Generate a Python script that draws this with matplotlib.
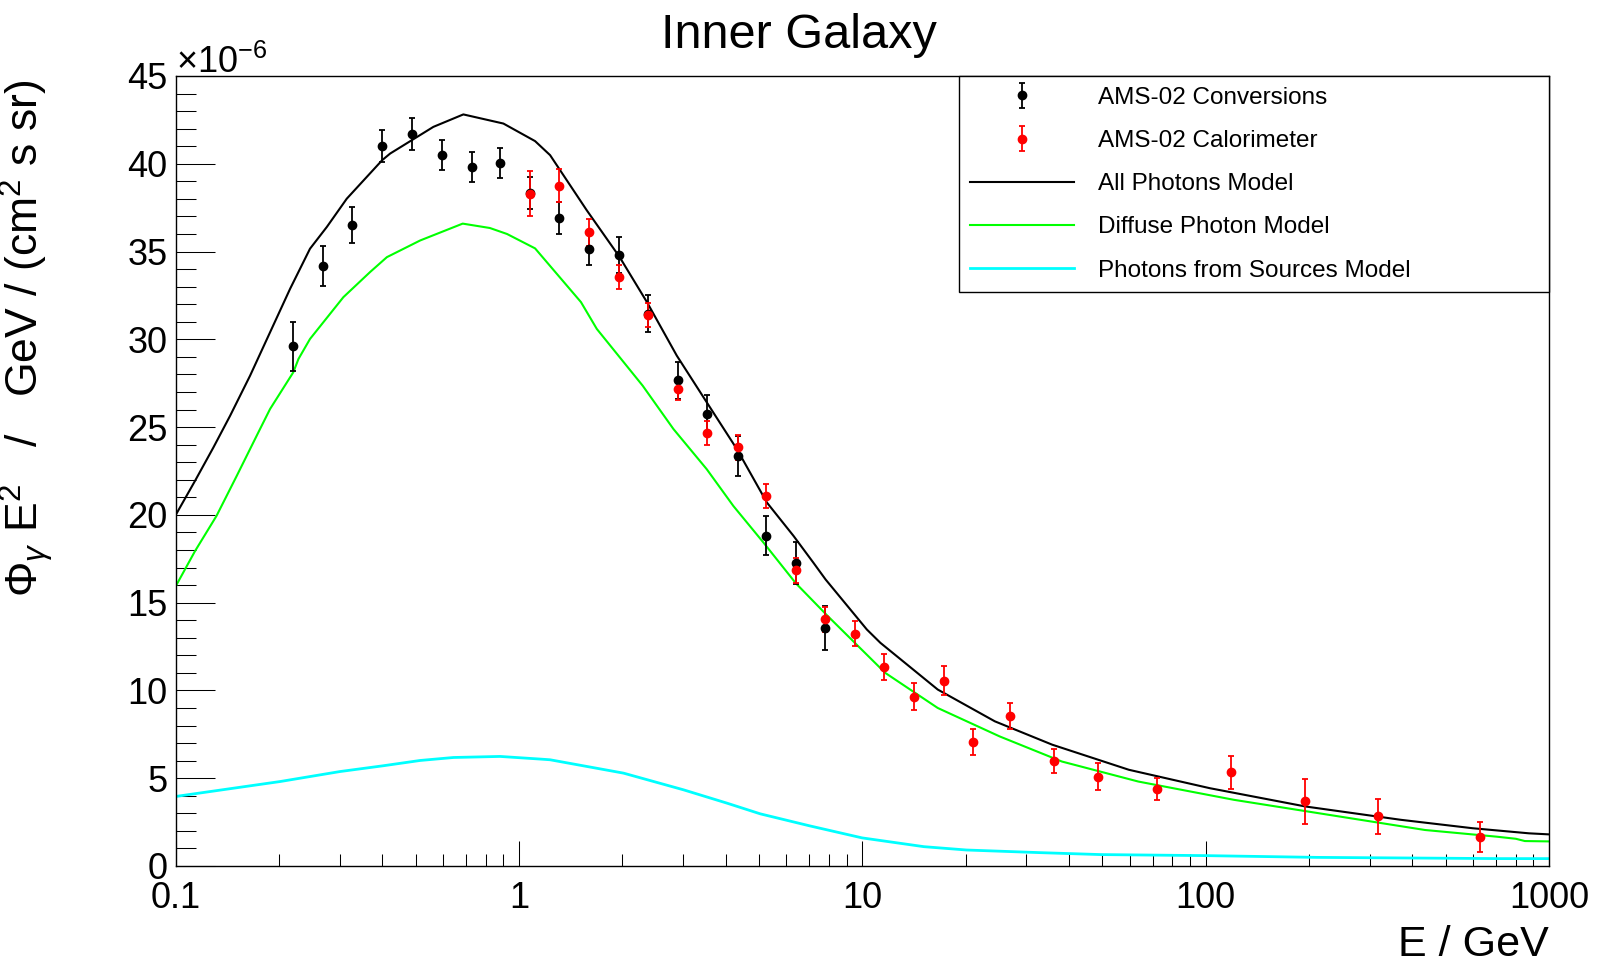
import matplotlib
matplotlib.use("Agg")
import matplotlib.pyplot as plt
from matplotlib.ticker import MultipleLocator, LogLocator, NullFormatter

plt.rcParams["font.family"] = ["Liberation Sans", "DejaVu Sans"]
plt.rcParams["mathtext.fontset"] = "custom"
plt.rcParams["mathtext.rm"] = "Liberation Sans"
plt.rcParams["mathtext.it"] = "Liberation Sans:italic"

# ============================================
# DATA  (flux values in units of 1e-6)
# ============================================
conv_E   = [0.2197, 0.268, 0.327, 0.400, 0.489, 0.597, 0.729, 0.880, 1.077, 1.31,
            1.60, 1.95, 2.38, 2.90, 3.53, 4.33, 5.24, 6.41, 7.79]
conv_val = [29.6, 34.17, 36.51, 41.02, 41.70, 40.51, 39.82, 40.05, 38.34, 36.91,
            35.16, 34.80, 31.47, 27.66, 25.72, 23.36, 18.82, 17.24, 13.57]
conv_err = [1.4, 1.15, 1.0, 0.9, 0.9, 0.87, 0.85, 0.87, 0.9, 0.9,
            0.9, 1.0, 1.04, 1.07, 1.12, 1.15, 1.1, 1.2, 1.24]

calo_E   = [1.077, 1.31, 1.60, 1.95, 2.38, 2.90, 3.53, 4.33, 5.24, 6.41, 7.79, 9.52,
            11.57, 14.16, 17.28, 21.0, 26.88, 36.06, 48.7, 72.1, 118.1, 194.0, 317.7, 630.0]
calo_val = [38.30, 38.75, 36.11, 33.54, 31.39, 27.17, 24.66, 23.84, 21.06, 16.84, 14.04, 13.24,
            11.34, 9.65, 10.56, 7.06, 8.56, 5.97, 5.08, 4.38, 5.35, 3.69, 2.82, 1.64]
calo_err = [1.29, 0.93, 0.77, 0.70, 0.70, 0.63, 0.68, 0.70, 0.68, 0.70, 0.69, 0.72,
            0.76, 0.75, 0.84, 0.75, 0.73, 0.68, 0.78, 0.61, 0.94, 1.29, 1.02, 0.84]

all_E   = [0.1, 0.1138, 0.1287, 0.144, 0.1646, 0.1882, 0.2153, 0.246, 0.2754, 0.3148,
           0.399, 0.421, 0.5626, 0.688, 0.900, 1.113, 1.231, 1.574, 1.96, 2.36,
           2.879, 3.52, 4.31, 5.27, 6.30, 7.2, 7.81, 10.3, 11.28, 16.57,
           24.3, 35.7, 59.7, 102.8, 195.0, 370.0, 599.0, 874.0, 1000.0]
all_val = [20.0, 21.94, 23.84, 25.65, 27.93, 30.4, 32.88, 35.16, 36.4, 38.01,
           40.2, 40.58, 42.1, 42.81, 42.29, 41.29, 40.49, 37.35, 34.7, 32.1,
           29.07, 26.41, 23.74, 20.70, 18.8, 17.27, 16.32, 13.47, 12.71, 10.05,
           8.24, 6.91, 5.48, 4.43, 3.39, 2.63, 2.15, 1.86, 1.80]

diff_E   = [0.1, 0.1138, 0.1314, 0.1505, 0.174, 0.1882, 0.2199, 0.2277, 0.246, 0.3077,
            0.368, 0.412, 0.515, 0.685, 0.822, 0.922, 1.113, 1.514, 1.684, 2.29,
            2.815, 3.52, 4.21, 5.15, 6.4, 7.93, 11.65, 16.57, 25.1, 38.1,
            63.6, 120.7, 229.0, 435.0, 703.0, 800.0, 850.0, 1000.0]
diff_val = [15.94, 17.94, 19.94, 22.22, 24.7, 26.03, 28.12, 28.88, 30.02, 32.4,
            33.83, 34.68, 35.63, 36.59, 36.34, 36.0, 35.18, 32.12, 30.59, 27.36,
            24.89, 22.6, 20.5, 18.42, 16.1, 14.23, 11.0, 9.0, 7.38, 5.95,
            4.81, 3.77, 2.91, 2.05, 1.67, 1.55, 1.42, 1.40]

src_E   = [0.1, 0.2013, 0.301, 0.4025, 0.5147, 0.644, 0.880, 1.151, 1.231, 2.013,
           3.01, 4.03, 5.04, 7.04, 9.98, 15.1, 20.1, 32.9, 49.3, 100.0,
           210.7, 720.0, 1000.0]
src_val = [3.96, 4.81, 5.38, 5.71, 6.01, 6.18, 6.24, 6.09, 6.05, 5.29,
           4.34, 3.58, 2.97, 2.28, 1.60, 1.10, 0.91, 0.76, 0.65, 0.59,
           0.49, 0.42, 0.42]

x_ticks  = [0.1, 1, 10, 100, 1000]
x_labels = ["0.1", "1", "10", "100", "1000"]

# ============================================
# PLOT
# ============================================
fig = plt.figure(figsize=(15.98, 9.74), dpi=100)
ax = fig.add_axes([0.110, 0.1109, 0.8594, 0.8111])

l_all, = ax.plot(all_E, all_val, color="black", lw=1.5, label="All Photons Model")
l_diff, = ax.plot(diff_E, diff_val, color="#00ff00", lw=1.5, label="Diffuse Photon Model")
l_src, = ax.plot(src_E, src_val, color="#00ffff", lw=2, label="Photons from Sources Model")

e_conv = ax.errorbar(conv_E, conv_val, yerr=conv_err, fmt="o", color="black",
                     ms=6, elinewidth=1.3, capsize=2.5, capthick=1.3,
                     label="AMS-02 Conversions")
e_calo = ax.errorbar(calo_E, calo_val, yerr=calo_err, fmt="o", color="red",
                     ms=6, elinewidth=1.3, capsize=2.5, capthick=1.3,
                     label="AMS-02 Calorimeter")

ax.set_xscale("log")
ax.set_xlim(0.1, 1000)
ax.set_ylim(0, 45)

ax.set_xticks(x_ticks)
ax.set_xticklabels(x_labels)
ax.xaxis.set_minor_locator(LogLocator(base=10, subs=[2, 3, 4, 5, 6, 7, 8, 9]))
ax.xaxis.set_minor_formatter(NullFormatter())
ax.yaxis.set_major_locator(MultipleLocator(5))
ax.yaxis.set_minor_locator(MultipleLocator(1))

ax.tick_params(axis="both", which="both", direction="in", top=False, right=False,
               width=0.75, labelsize=26)
ax.tick_params(axis="x", which="major", length=18, pad=11)
ax.tick_params(axis="x", which="minor", length=8.6)
ax.tick_params(axis="y", which="major", length=28, pad=6)
ax.tick_params(axis="y", which="minor", length=14.5)
for sp in ax.spines.values():
    sp.set_linewidth(1)

ax.set_xlabel("E / GeV", fontsize=31, loc="right")
ax.xaxis.set_label_coords(1.0, -0.075)
ax.set_ylabel(r"$\Phi_{\gamma}$ E$^{2}$   /   GeV / (cm$^{2}$ s sr)", fontsize=32, loc="top")
ax.yaxis.set_label_coords(-0.088, 0.996)

ax.text(0.0, 1.004, r"$\times$10$^{-6}$", transform=ax.transAxes,
        ha="left", va="baseline", fontsize=26)

fig.text(0.5, 0.9504, "Inner Galaxy", ha="center", va="baseline", fontsize=35)

leg = ax.legend(handles=[e_conv, e_calo, l_all, l_diff, l_src],
                loc="upper left", bbox_to_anchor=(0.570, 0.0, 0.430, 1.0),
                mode="expand", borderaxespad=0, fontsize=17.5,
                handlelength=4.3, handletextpad=1.0, labelspacing=0.87,
                borderpad=0.45, fancybox=False, framealpha=1, edgecolor="black")
leg.get_frame().set_linewidth(1)

fig.savefig("out.png", dpi=100)
